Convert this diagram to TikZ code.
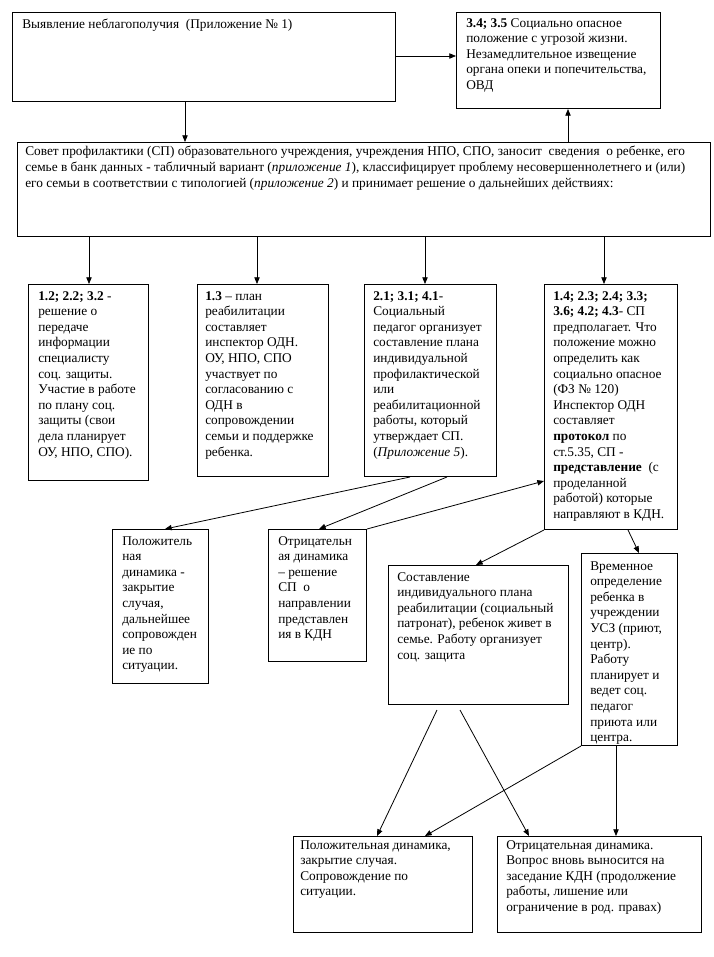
\documentclass[tikz,border=0pt]{standalone}
\usepackage{fontspec}
\setmainfont{Liberation Serif}
\usetikzlibrary{arrows.meta,calc}
\newcommand\bx[5]{\node[box, minimum width={(#4-#2)*0.75pt}, minimum height={(#5-#3)*0.75pt}] (#1) at (#2,#3) {};}
\begin{document}
\begin{tikzpicture}[x=0.75pt,y=-0.75pt,
  box/.style={draw, line width=0.75pt, inner sep=0pt, anchor=north west},
  txt/.style={anchor=north west, inner sep=0pt, align=left, font=\fontsize{10}{11.7}\selectfont},
  arr/.style={line width=0.6pt, -{Triangle[length=5pt,width=4pt]}}]
\useasboundingbox (0,0) rectangle (714,957);
% boxes
\bx{A}{12}{12}{395}{101}
\bx{B}{456}{12}{660}{108}
\bx{C}{17}{142}{710}{236}
\bx{D1}{28}{284}{148}{480}
\bx{D2}{197}{284}{328}{476}
\bx{D3}{364}{284}{496}{476}
\bx{D4}{544}{284}{677}{529}
\bx{E1}{112}{529}{208}{683}
\bx{E2}{268}{529}{366}{661}
\bx{E3}{388}{565}{568}{704}
\bx{E4}{581}{553}{677}{745}
\bx{F1}{293}{836}{472}{932}
\bx{F2}{497}{836}{701}{932}
% texts
\node[txt] (tA) at (22,19) {Выявление неблагополучия~ (Приложение № 1)};
\node[txt] (tB) at (466,18) {\textbf{3.4; 3.5} Социально опасное\\положение с угрозой жизни.\\Незамедлительное извещение\\органа опеки и попечительства,\\ОВД};
\node[txt] (tC) at (25,146) {Совет профилактики (СП) образовательного учреждения, учреждения НПО, СПО, заносит~ сведения~ о ребенке, его\\семье в банк данных - табличный вариант (\textit{приложение 1}), классифицирует проблему несовершеннолетнего и (или)\\его семьи в соответствии с типологией (\textit{приложение 2}) и принимает решение о дальнейших действиях:};
\node[txt] (tD1) at (38,291) {\textbf{1.2; 2.2; 3.2} -\\решение о\\передаче\\информации\\специалисту\\соц. защиты.\\Участие в работе\\по плану соц.\\защиты (свои\\дела планирует\\ОУ, НПО, СПО).};
\node[txt] (tD2) at (205,291) {\textbf{1.3} – план\\реабилитации\\составляет\\инспектор ОДН.\\ОУ, НПО, СПО\\участвует по\\согласованию с\\ОДН в\\сопровождении\\семьи и поддержке\\ребенка.};
\node[txt] (tD3) at (373,291) {\textbf{2.1; 3.1; 4.1}-\\Социальный\\педагог организует\\составление плана\\индивидуальной\\профилактической\\или\\реабилитационной\\работы, который\\утверждает СП.\\(\textit{Приложение 5}).};
\node[txt] (tD4) at (553,291) {\textbf{1.4; 2.3; 2.4; 3.3;}\\\textbf{3.6; 4.2; 4.3}- СП\\предполагает. Что\\положение можно\\определить как\\социально опасное\\(ФЗ № 120)\\Инспектор ОДН\\составляет\\\textbf{протокол} по\\ст.5.35, СП -\\\textbf{представление}~ (с\\проделанной\\работой) которые\\направляют в КДН.};
\node[txt] (tE1) at (122,536) {Положитель\\ная\\динамика -\\закрытие\\случая,\\дальнейшее\\сопровожден\\ие по\\ситуации.};
\node[txt] (tE2) at (278,536) {Отрицательн\\ая динамика\\– решение\\СП~ о\\направлении\\представлен\\ия в КДН};
\node[txt] (tE3) at (397,572) {Составление\\индивидуального плана\\реабилитации (социальный\\патронат), ребенок живет в\\семье. Работу организует\\соц. защита};
\node[txt] (tE4) at (590,561) {Временное\\определение\\ребенка в\\учреждении\\УСЗ (приют,\\центр).\\Работу\\планирует и\\ведет соц.\\педагог\\приюта или\\центра.};
\node[txt] (tF1) at (300,840) {Положительная динамика,\\закрытие случая.\\Сопровождение по\\ситуации.};
\node[txt] (tF2) at (506,840) {Отрицательная динамика.\\Вопрос вновь выносится на\\заседание КДН (продолжение\\работы, лишение или\\ограничение в род. правах)};
% connectors
\draw[arr] ($(A.north east)+(0,44)$) -- ($(B.north west)+(0,44)$);
\draw[arr] ($(A.south west)+(173,0)$) -- ($(C.north west)+(168,0)$);
\draw[arr] ($(C.north west)+(551,0)$) -- ($(B.south west)+(112,0)$);
\draw[arr] ($(C.south west)+(72,0)$) -- ($(D1.north west)+(61,0)$);
\draw[arr] ($(C.south west)+(240,0)$) -- ($(D2.north west)+(60,0)$);
\draw[arr] ($(C.south west)+(408,0)$) -- ($(D3.north west)+(61,0)$);
\draw[arr] ($(C.south west)+(587,0)$) -- ($(D4.north west)+(60,0)$);
\draw[arr] ($(D3.south west)+(46,0)$) -- ($(E1.north west)+(53,0)$);
\draw[arr] ($(D3.south west)+(83,0)$) -- ($(E2.north west)+(51,0)$);
\draw[arr] (E2.north east) -- ($(D4.north west)+(0,197)$);
\draw[arr] (D4.south west) -- ($(E3.north west)+(88,0)$);
\draw[arr] ($(D4.south west)+(84,0)$) -- ($(E4.north west)+(58,0)$);
\draw[arr] ($(E3.south west)+(49,5)$) -- ($(F1.north west)+(84,0)$);
\draw[arr] ($(E3.south west)+(72,5)$) -- ($(F2.north west)+(32,0)$);
\draw[arr] (E4.south west) -- ($(F1.north west)+(132,0)$);
\draw[arr] ($(E4.south west)+(35,0)$) -- ($(F2.north west)+(119,0)$);
\end{tikzpicture}
\end{document}
